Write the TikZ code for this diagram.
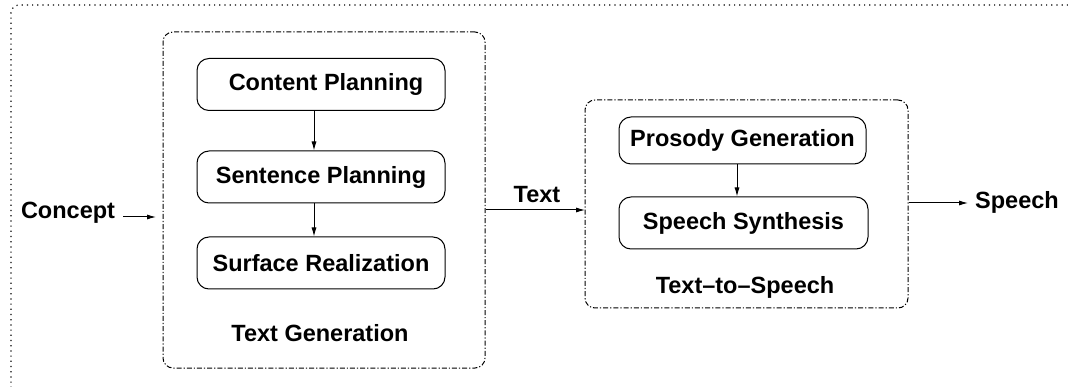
\documentclass[tikz,border=0pt]{standalone}
\usepackage{fontspec}
\setmainfont{Liberation Sans}
\usetikzlibrary{arrows.meta}
\tikzset{
  lbl/.style={font=\fontsize{23.5}{26}\selectfont\bfseries, inner sep=0pt},
  stage/.style={draw, line width=1pt, rounded corners=12pt, inner sep=0pt,
    minimum height=52pt, font=\fontsize{23.5}{26}\selectfont\bfseries},
  group/.style={draw, line width=1pt, rounded corners=10pt,
    dash pattern=on 5pt off 2pt on 1.2pt off 2pt},
  flow/.style={line width=1pt, -{Latex[length=9pt,width=5pt]}},
}
\begin{document}
\begin{tikzpicture}[x=1pt,y=-1pt]
\useasboundingbox (0,0) rectangle (1068,387);
% outer frame, only its top and left edges lie on the page
\draw[line width=1.2pt, dash pattern=on 1.2pt off 4pt, rounded corners=8pt]
  (1068,5) -- (11,5) -- (11,392);

% text generation group
\node[group, minimum width=322pt, minimum height=336pt] (tg) at (324,200) {};
\node[stage, minimum width=248pt] (cp) at (321,84.5) {\hspace{10pt}Content Planning};
\node[stage, minimum width=248pt] (sp) at (321,177) {Sentence Planning};
\node[stage, minimum width=248pt] (sr) at (321,263) {Surface Realization};
\node[lbl] (tgl) at (320,333) {Text Generation};

% text-to-speech group
\node[group, minimum width=323pt, minimum height=208pt] (tts) at (746.5,204) {};
\node[stage, minimum width=247pt, minimum height=47pt] (pg) at (742.5,140.5) {Prosody Generation};
\node[stage, minimum width=249pt] (ss) at (743.5,223) {Speech Synthesis};
\node[lbl] (ttsl) at (745,287) {Text--to--Speech};

% inputs and outputs
\node[lbl] (concept) at (68,213) {Concept};
\node[lbl] (textl) at (537,195) {Text};
\node[lbl] (speech) at (1017,202) {Speech};
\coordinate (cin) at (123,217);
\coordinate (cend) at (156,217);
\coordinate (tend) at (585,210);
\coordinate (sout) at (968,203);

\draw[flow] (cin) -- (cend);
\draw[flow] ([xshift=-7pt]cp.south) -- ([xshift=-7pt]sp.north);
\draw[flow] ([xshift=-7pt]sp.south) -- ([xshift=-7pt]sr.north);
\draw[flow] (tg.east |- tend) -- (tend);
\draw[flow] ([xshift=-5.5pt]pg.south) -- ([xshift=-6.5pt]ss.north);
\draw[flow] (tts.east |- sout) -- (sout);
\end{tikzpicture}
\end{document}
